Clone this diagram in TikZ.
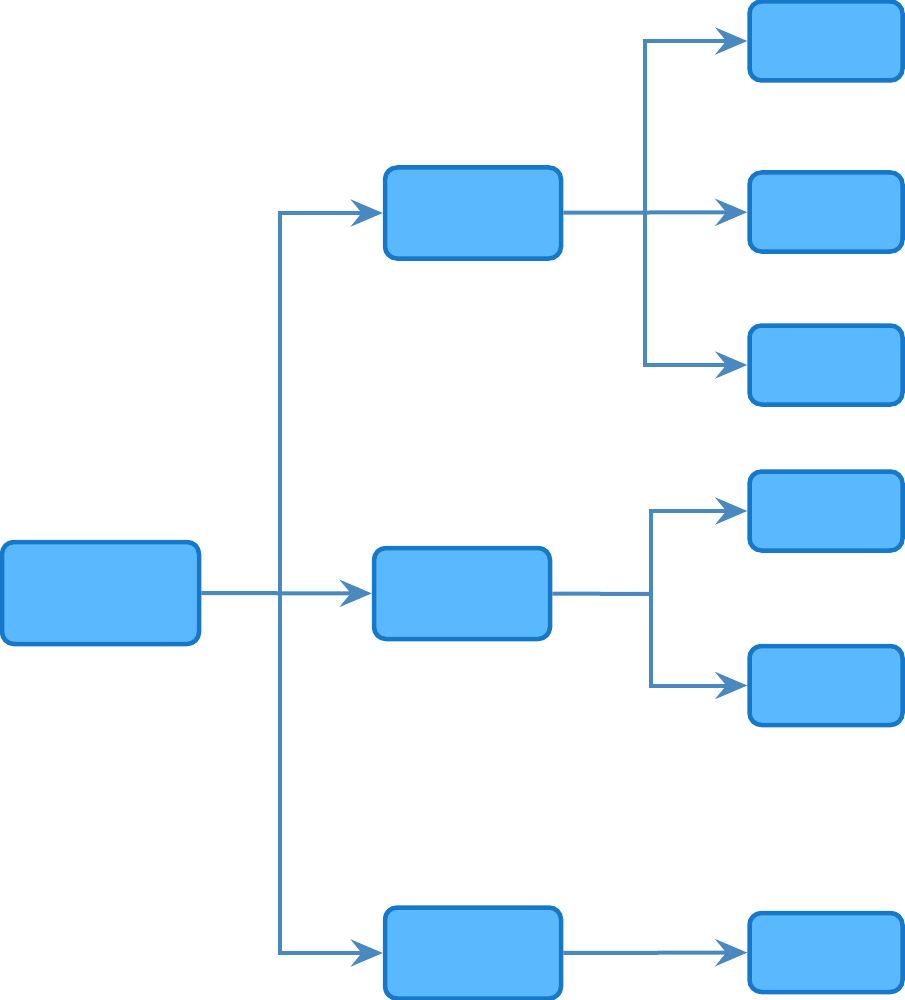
\documentclass[tikz,border=0pt]{standalone}
\usepackage{tikz}
\usetikzlibrary{arrows.meta, positioning}
\usepackage{xcolor}
\definecolor{boxfill}{HTML}{5AB8FF}
\definecolor{boxline}{HTML}{1777C9}
\definecolor{linkcol}{HTML}{4A88C0}

\begin{document}
\begin{tikzpicture}[
    x=1pt, y=-1pt,
    blk/.style={draw=boxline, line width=4.5pt, rounded corners=12pt, fill=boxfill, inner sep=0pt, minimum width=176pt, minimum height=91pt},
    leaf/.style={blk, minimum width=153pt, minimum height=79pt},
    arr/.style={-{Stealth[length=32pt, width=27pt, inset=11pt]}, draw=linkcol, line width=4pt},
    lnk/.style={draw=linkcol, line width=4pt}
]
\useasboundingbox (0,0) rectangle (904,1000);

\node[blk, minimum width=197pt, minimum height=102pt] (root) at (100.5,593) {};

\node[blk] (a) at (473,213) {};
\node[blk] (b) at (462,593.5) {};
\node[blk] (c) at (473,953) {};

\node[leaf] (a1) at (826,41) {};
\node[leaf] (a2) at (826,212) {};
\node[leaf] (a3) at (826,365) {};
\node[leaf] (b1) at (826,511) {};
\node[leaf] (b2) at (826,685.5) {};
\node[leaf] (c1) at (826,952.5) {};

% trunk from the root
\coordinate (t1) at (280,593);
\draw[arr] (root) -- (b);
\draw[arr] (t1) |- (a);
\draw[arr] (t1) |- (c);

% first branch
\coordinate (t2) at (645,213);
\draw[arr] (a) -- (a2);
\draw[arr] (t2) |- (a1);
\draw[arr] (t2) |- (a3);

% second branch
\coordinate (t3) at (651,594);
\draw[lnk] (b.east) -- (t3);
\draw[arr] (t3) |- (b1);
\draw[arr] (t3) |- (b2);

% third branch
\draw[arr] (c) -- (c1);
\end{tikzpicture}
\end{document}
